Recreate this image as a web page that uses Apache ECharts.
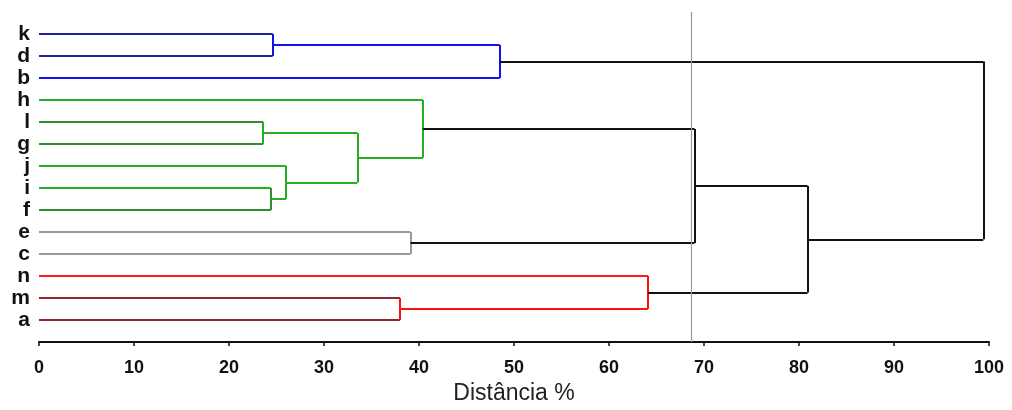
<!DOCTYPE html>
<html>
<head>
<meta charset="utf-8">
<script src="https://cdn.jsdelivr.net/npm/echarts@6/dist/echarts.min.js"></script>
<style>
html,body{margin:0;padding:0;background:#fff;}
#chart{width:1012px;height:410px;}
</style>
</head>
<body>
<div id="chart"></div>
<script>
// Leaves, top to bottom
const leaves = ['k','d','b','h','l','g','j','i','f','e','c','n','m','a'];
// Merges (cluster id = 'C' + index): left child, right child, distance %
const mergeLeft   = ['l','i','k','j','C0','m','e','h','C2','n','C7','C10','C8'];
const mergeRight  = ['g','f','d','C1','C3','a','c','C4','b','C5','C6','C9','C11'];
const mergeHeight = [23.6, 24.4, 24.6, 26.0, 33.5, 38.0, 39.1, 40.4, 48.5, 64.1, 69.0, 80.9, 99.4];
// Cut line
const cutDistance = 68.7;
// x-axis ticks
const xTicks = [0,10,20,30,40,50,60,70,80,90,100];

// Styles (kept apart from data)
const leafColor = {k:'#22229a', d:'#22229a', b:'#1010f0', h:'#22b022', l:'#2f8f2f', g:'#2f8f2f',
  j:'#22b022', i:'#22b022', f:'#2f8f2f', e:'#9a9a9a', c:'#9a9a9a', n:'#ff1a1a', m:'#8f2a2a', a:'#8f2a2a'};
const linkColor = ['#22b022','#2f8f2f','#1010f0','#22b022','#22b022','#ff1010','#9a9a9a','#22b022','#1010f0','#ff1010','#111','#111','#111'];

// Build segments through the axis scales
const pos = {};   // node -> {x, y}
leaves.forEach((l,i)=>{ pos[l] = {x:0, y:i}; });
const segs = [];
mergeHeight.forEach((h,i)=>{
  const A = mergeLeft[i], B = mergeRight[i];
  const pa = pos[A], pb = pos[B];
  const ca = leafColor[A] ? leafColor[A] : linkColor[i];
  const cb = leafColor[B] ? leafColor[B] : linkColor[i];
  segs.push({coords:[[pa.x,pa.y],[h,pa.y]], lineStyle:{color:ca}});
  segs.push({coords:[[pb.x,pb.y],[h,pb.y]], lineStyle:{color:cb}});
  segs.push({coords:[[h,pa.y],[h,pb.y]], lineStyle:{color:linkColor[i]}});
  pos['C'+i] = {x:h, y:(pa.y+pb.y)/2};
});

const chart = echarts.init(document.getElementById('chart'));
chart.setOption({
  animation:false,
  backgroundColor:'#fff',
  grid:{left:39, right:23, top:12, bottom:62, containLabel:false},
  xAxis:{
    type:'value', min:0, max:100, interval:10,
    axisLine:{show:true, onZero:false, lineStyle:{color:'#111', width:2}},
    axisTick:{show:true, length:4, lineStyle:{color:'#111', width:1.5}},
    axisLabel:{margin:17, fontSize:18, fontWeight:'bold', color:'#111', fontFamily:'Liberation Sans, Arial, sans-serif',
      formatter:(v)=> xTicks.includes(v) ? String(v) : ''},
    splitLine:{show:false},
    name:'Distância %', nameLocation:'middle', nameGap:38,
    nameTextStyle:{fontSize:23, color:'#222', fontFamily:'Liberation Sans, Arial, sans-serif'}
  },
  yAxis:{
    type:'value', inverse:true, min:-1, max:14, interval:1,
    axisLine:{show:false}, axisTick:{show:false}, splitLine:{show:false},
    axisLabel:{margin:9, fontSize:21, fontWeight:'bold', color:'#111', fontFamily:'Liberation Sans, Arial, sans-serif',
      formatter:(v)=> leaves[v] !== undefined ? leaves[v] : ''}
  },
  series:[{
    type:'lines', coordinateSystem:'cartesian2d', polyline:false,
    lineStyle:{width:2, opacity:1},
    data:segs,
    markLine:{
      silent:true, symbol:['none','none'], label:{show:false},
      lineStyle:{color:'#9a9a9a', width:1.2, type:'solid'},
      data:[{xAxis:cutDistance}]
    },
    z:3
  }]
});
</script>
</body>
</html>
